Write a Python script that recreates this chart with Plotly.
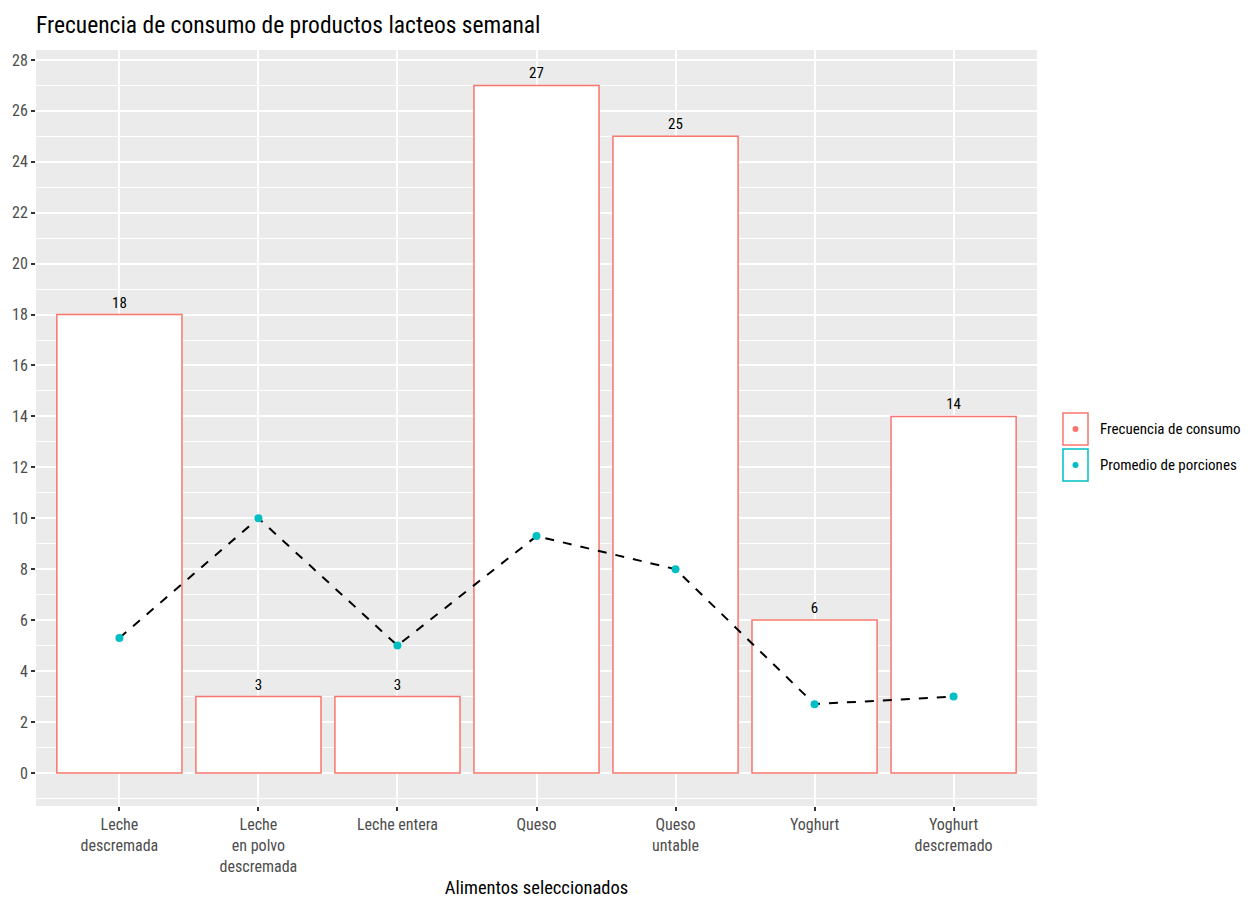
import plotly.graph_objects as go

categories = ["Leche descremada", "Leche en polvo descremada", "Leche entera", "Queso",
              "Queso untable", "Yoghurt", "Yoghurt descremado"]
tick_labels = ["Leche<br>descremada", "Leche<br>en polvo<br>descremada", "Leche entera", "Queso",
               "Queso<br>untable", "Yoghurt", "Yoghurt<br>descremado"]
frecuencia = [18, 3, 3, 27, 25, 6, 14]
promedio = [5.3, 10, 5, 9.3, 8, 2.7, 3]
legend_labels = ["Frecuencia de consumo", "Promedio de porciones"]

FONT = "Liberation Sans Narrow, Roboto Condensed, Arial Narrow, sans-serif"
RED = "#F8766D"
CYAN = "#00BFC4"

# page offset (browser body margin)
OFF = 8
PX0, PX1, PY0, PY1 = 36, 1037, 50, 806  # panel in page pixels
PW, PH = PX1 - PX0, PY1 - PY0

fig = go.Figure()
fig.add_trace(go.Bar(
    x=categories, y=frecuencia, width=0.9,
    marker=dict(color="white", line=dict(color=RED, width=1.5)),
    text=[str(v) for v in frecuencia], textposition="outside",
    textfont=dict(family=FONT, size=15, color="black"),
    cliponaxis=False, showlegend=False, name=legend_labels[0],
))
fig.add_trace(go.Scatter(
    x=categories, y=promedio, mode="lines+markers",
    line=dict(color="black", width=2, dash="dash"),
    marker=dict(color=CYAN, size=8),
    showlegend=False, name=legend_labels[1],
))

shapes = []
annotations = []
for i, (lab, col) in enumerate(zip(legend_labels, [RED, CYAN])):
    y0 = 413 + i * 36
    shapes.append(dict(type="rect", xref="paper", yref="paper",
                       x0=(1063 - PX0) / PW, x1=(1088 - PX0) / PW,
                       y0=1 - (y0 + 32 - PY0) / PH, y1=1 - (y0 - PY0) / PH,
                       line=dict(color=col, width=1.5), fillcolor="white", layer="above"))
    yc = 1 - (y0 + 16 - PY0) / PH
    shapes.append(dict(type="circle", xref="paper", yref="paper",
                       x0=(1072.5 - PX0) / PW, x1=(1078.5 - PX0) / PW,
                       y0=yc - 3 / PH, y1=yc + 3 / PH,
                       line=dict(color=col, width=0), fillcolor=col, layer="above"))
    annotations.append(dict(text=lab, xref="paper", yref="paper",
                            x=(1098 - PX0) / PW, y=yc, xanchor="left", yanchor="middle",
                            showarrow=False, font=dict(family=FONT, size=15, color="black")))

fig.update_layout(
    width=1254, height=897,
    margin=dict(l=PX0 - OFF, r=1254 - PX1 + OFF, t=PY0 - OFF, b=897 - PY1 + OFF),
    paper_bgcolor="white", plot_bgcolor="#EBEBEB",
    title=dict(text="Frecuencia de consumo de productos lacteos semanal",
               x=(36 - OFF) / 1254, xanchor="left", y=1 - (25 - OFF) / 897, yanchor="middle",
               font=dict(family=FONT, size=23.5, color="black")),
    font=dict(family=FONT),
    shapes=shapes, annotations=annotations,
    bargap=0.1,
)
fig.update_xaxes(
    range=[-0.6, 6.6], tickmode="array", tickvals=categories, ticktext=tick_labels,
    showgrid=True, gridcolor="white", gridwidth=1.5,
    ticks="outside", ticklen=4, tickcolor="#333333", tickwidth=1.5,
    tickfont=dict(family=FONT, size=16, color="#4D4D4D"),
    title=dict(text="Alimentos seleccionados", font=dict(family=FONT, size=18.5, color="black"), standoff=6),
    zeroline=False, showline=False, automargin=False,
)
fig.update_yaxes(
    range=[-1.3, 28.39], tickmode="linear", tick0=0, dtick=2,
    showgrid=True, gridcolor="white", gridwidth=1.5,
    minor=dict(tick0=1, dtick=2, showgrid=True, gridcolor="white", gridwidth=0.7),
    ticks="outside", ticklen=4, tickcolor="#333333", tickwidth=1.5,
    tickfont=dict(family=FONT, size=16, color="#4D4D4D"),
    zeroline=False, showline=False, automargin=False,
)

fig.write_html("out.html")
